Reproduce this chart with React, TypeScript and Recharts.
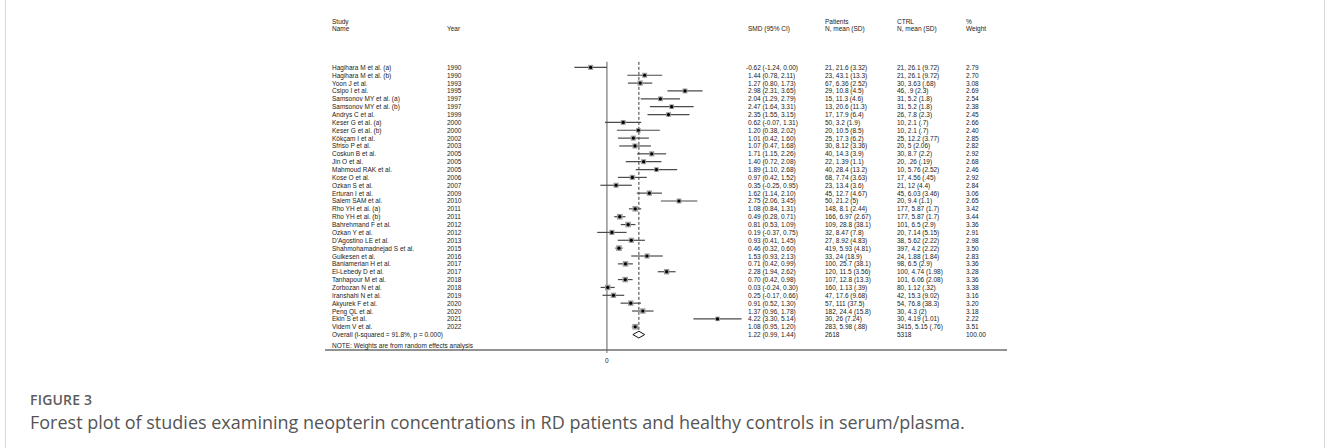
import React from 'react';
import { ComposedChart, Scatter, ErrorBar, XAxis, YAxis, ReferenceLine } from 'recharts';

// ---- study table ----
const studyNames = [
  'Hagihara M et al. (a)', 'Hagihara M et al. (b)', 'Yoon J et al.', 'Csipo I et al.',
  'Samsonov MY et al. (a)', 'Samsonov MY et al. (b)', 'Andrys C et al.', 'Keser G et al. (a)',
  'Keser G et al. (b)', 'Kökçam I et al.', 'Sfriso P et al.', 'Coskun B et al.',
  'Jin O et al.', 'Mahmoud RAK et al.', 'Kose O et al.', 'Ozkan  S et al.',
  'Erturan I et al.', 'Salem SAM et al.', 'Rho YH et al. (a)', 'Rho YH et al. (b)',
  'Bahrehmand F et al.', 'Ozkan Y et al.', "D'Agostino LE et al.", 'Shahmohamadnejad S et al.',
  'Gulkesen et al.', 'Baniamerian H et al.', 'El-Lebedy D et al.', 'Tanhapour M et al.',
  'Zorbozan N et al.', 'Iranshahi N et al.', 'Akyurek F et al.', 'Peng QL et al.',
  'Ekin S et al.', 'Videm V et al.',
];
const studyYears = [
  '1990', '1990', '1993', '1995', '1997', '1997', '1999', '2000', '2000', '2002', '2003', '2005',
  '2005', '2005', '2006', '2007', '2009', '2010', '2011', '2011', '2012', '2012', '2013', '2015',
  '2016', '2017', '2017', '2018', '2018', '2019', '2020', '2020', '2021', '2022',
];
const smd = [
  -0.62, 1.44, 1.27, 2.98, 2.04, 2.47, 2.35, 0.62, 1.20, 1.01, 1.07, 1.71,
  1.40, 1.89, 0.97, 0.35, 1.62, 2.75, 1.08, 0.49, 0.81, 0.19, 0.93, 0.46,
  1.53, 0.71, 2.28, 0.70, 0.03, 0.25, 0.91, 1.37, 4.22, 1.08,
];
const ciLow = [
  -1.24, 0.78, 0.80, 2.31, 1.29, 1.64, 1.55, -0.07, 0.38, 0.42, 0.47, 1.15,
  0.72, 1.10, 0.42, -0.25, 1.14, 2.06, 0.84, 0.28, 0.53, -0.37, 0.41, 0.32,
  0.93, 0.42, 1.94, 0.42, -0.24, -0.17, 0.52, 0.96, 3.30, 0.95,
];
const ciHigh = [
  0.00, 2.11, 1.73, 3.65, 2.79, 3.31, 3.15, 1.31, 2.02, 1.60, 1.68, 2.26,
  2.08, 2.68, 1.52, 0.95, 2.10, 3.45, 1.31, 0.71, 1.09, 0.75, 1.45, 0.60,
  2.13, 0.99, 2.62, 0.98, 0.30, 0.66, 1.30, 1.78, 5.14, 1.20,
];
const patientsText = [
  '21, 21.6 (3.32)', '23, 43.1 (13.3)', '67, 6.36 (2.52)', '29, 10.8 (4.5)', '15, 11.3 (4.6)',
  '13, 20.6 (11.3)', '17, 17.9 (6.4)', '50, 3.2 (1.9)', '20, 10.5 (8.5)', '25, 17.3 (6.2)',
  '30, 8.12 (3.36)', '40, 14.3 (3.9)', '22, 1.39 (1.1)', '40, 28.4 (13.2)', '68, 7.74 (3.63)',
  '23, 13.4 (3.6)', '45, 12.7 (4.67)', '50, 21.2 (5)', '148, 8.1 (2.44)', '166, 6.97 (2.67)',
  '109, 28.8 (38.1)', '32, 8.47 (7.8)', '27, 8.92 (4.83)', '419, 5.93 (4.81)', '33, 24 (18.9)',
  '100, 25.7 (38.1)', '120, 11.5 (3.56)', '107, 12.8 (13.3)', '160, 1.13 (.39)', '47, 17.6 (9.68)',
  '57, 111 (37.5)', '182, 24.4 (15.8)', '30, 26 (7.24)', '283, 5.98 (.88)',
];
const ctrlText = [
  '21, 26.1 (9.72)', '21, 26.1 (9.72)', '30, 3.63 (.68)', '46, .9 (2.3)', '31, 5.2 (1.8)',
  '31, 5.2 (1.8)', '26, 7.8 (2.3)', '10, 2.1 (.7)', '10, 2.1 (.7)', '25, 12.2 (3.77)',
  '20, 5 (2.06)', '30, 8.7 (2.2)', '20, .26 (.19)', '10, 5.76 (2.52)', '17, 4.56 (.45)',
  '21, 12 (4.4)', '45, 6.03 (3.46)', '20, 9.4 (1.1)', '177, 5.87 (1.7)', '177, 5.87 (1.7)',
  '101, 6.5 (2.9)', '20, 7.14 (5.15)', '38, 5.62 (2.22)', '397, 4.2 (2.22)', '24, 1.88 (1.84)',
  '98, 6.5 (2.9)', '100, 4.74 (1.98)', '101, 6.06 (2.08)', '80, 1.12 (.32)', '42, 15.3 (9.02)',
  '54, 76.8 (38.3)', '30, 4.3 (2)', '30, 4.19 (1.01)', '3415, 5.15 (.76)',
];
const weights = [
  2.79, 2.70, 3.08, 2.69, 2.54, 2.38, 2.45, 2.66, 2.40, 2.85, 2.82, 2.92,
  2.68, 2.46, 2.92, 2.84, 3.06, 2.65, 3.42, 3.44, 3.36, 2.91, 2.98, 3.50,
  2.83, 3.36, 3.28, 3.36, 3.38, 3.16, 3.20, 3.18, 2.22, 3.51,
];

// ---- pooled estimate ----
const overallLabel = 'Overall  (I-squared = 91.8%, p = 0.000)';
const overallSmd = 1.22;
const overallLow = 0.99;
const overallHigh = 1.44;
const overallPatients = '2618';
const overallCtrl = '5318';
const overallWeight = 100.0;
const noteText = 'NOTE: Weights are from random effects analysis';

const headerTop = ['Study', '', '', 'Patients', 'CTRL', '%'];
const headerBottom = ['Name', 'Year', 'SMD (95% CI)', 'N, mean (SD)', 'N, mean (SD)', 'Weight'];

// ---- layout ----
const W = 1330;
const H = 448;
const COLS = [332, 447, 748, 825, 897, 966];
const X_DOMAIN: [number, number] = [-10.76, 15.27];
const Y_DOMAIN: [number, number] = [-7, 36.96];
const HEADER_ROWS = [-4.9, -3.9];
const OVERALL_ROW = studyNames.length + 1;
const NOTE_ROW = 36.35;
const FONT = "'Liberation Sans', Arial, sans-serif";
const FS = 6.5;

const fmt = (v: number) => v.toFixed(2);
const ciLabel = (e: number, l: number, h: number) => `${fmt(e)} (${fmt(l)}, ${fmt(h)})`;

const studyRows = studyNames.map((name, i) => ({
  row: i + 1,
  x: smd[i],
  err: [smd[i] - ciLow[i], ciHigh[i] - smd[i]],
  w: weights[i],
}));

const DIAMOND_HALF = 0.43;
const diamond = [
  { x: overallLow, row: OVERALL_ROW },
  { x: overallSmd, row: OVERALL_ROW - DIAMOND_HALF },
  { x: overallHigh, row: OVERALL_ROW },
  { x: overallSmd, row: OVERALL_ROW + DIAMOND_HALF },
  { x: overallLow, row: OVERALL_ROW },
];

const yTicks = [
  ...HEADER_ROWS,
  ...studyNames.map((_, i) => i + 1),
  OVERALL_ROW,
  NOTE_ROW,
];

const txt = (x: number, y: number, s: string, key: string) => (
  <text key={key} x={x} y={y} fontSize={FS} fontFamily={FONT} fill="#222" dominantBaseline="central">
    {s}
  </text>
);

const RowTick = (props: any) => {
  const { y, payload } = props;
  const v = payload.value as number;
  if (v === HEADER_ROWS[0]) {
    return <g>{headerTop.map((s, c) => (s ? txt(COLS[c], y, s, `h${c}`) : null))}</g>;
  }
  if (v === HEADER_ROWS[1]) {
    return <g>{headerBottom.map((s, c) => txt(COLS[c], y, s, `h${c}`))}</g>;
  }
  if (v === NOTE_ROW) {
    return <g>{txt(COLS[0], y, noteText, 'n')}</g>;
  }
  if (v === OVERALL_ROW) {
    return (
      <g>
        {txt(COLS[0], y, overallLabel, 'a')}
        {txt(COLS[2], y, ciLabel(overallSmd, overallLow, overallHigh), 'c')}
        {txt(COLS[3], y, overallPatients, 'd')}
        {txt(COLS[4], y, overallCtrl, 'e')}
        {txt(COLS[5], y, fmt(overallWeight), 'f')}
      </g>
    );
  }
  const i = v - 1;
  if (i < 0 || i >= studyNames.length) return <g />;
  const neg = smd[i] < 0;
  return (
    <g>
      {txt(COLS[0], y, studyNames[i], 'a')}
      {txt(COLS[1], y, studyYears[i], 'b')}
      {txt(neg ? COLS[2] - 2 : COLS[2], y, ciLabel(smd[i], ciLow[i], ciHigh[i]), 'c')}
      {txt(COLS[3], y, patientsText[i], 'd')}
      {txt(COLS[4], y, ctrlText[i], 'e')}
      {txt(COLS[5], y, fmt(weights[i]), 'f')}
    </g>
  );
};

const StudyMarker = (props: any) => {
  const { cx, cy, payload } = props;
  const side = 3.0 * Math.sqrt(payload.w);
  return (
    <g>
      <rect x={cx - side / 2} y={cy - side / 2} width={side} height={side} fill="#9a9a9a" />
      <circle cx={cx} cy={cy} r={1.6} fill="#000" />
    </g>
  );
};

const NoMarker = () => <g />;

export default function App() {
  return (
    <div style={{ position: 'absolute', left: 0, top: 0, width: W, height: H, background: '#fff', overflow: 'hidden' }}>
      <div
        style={{
          position: 'absolute', left: 5, top: -2, width: W - 10, height: H + 10,
          border: '1px solid #d9d9d9', boxSizing: 'border-box',
        }}
      />
      <ComposedChart
        width={W}
        height={H}
        margin={{ top: 4.5, right: W - 1007, bottom: 78, left: 324 }}
        style={{ position: 'absolute', left: 0, top: 0 }}
      >
        <XAxis
          type="number"
          dataKey="x"
          domain={X_DOMAIN}
          ticks={[0]}
          allowDataOverflow
          height={20}
          axisLine={{ stroke: '#6e6e6e', strokeWidth: 1.4 }}
          tickLine={{ stroke: '#6e6e6e' }}
          tickSize={3}
          tickMargin={5}
          tick={{ fontSize: FS, fontFamily: FONT, fill: '#222' }}
        />
        <YAxis
          type="number"
          dataKey="row"
          domain={Y_DOMAIN}
          reversed
          ticks={yTicks}
          interval={0}
          width={1}
          axisLine={false}
          tickLine={false}
          allowDataOverflow
          tick={<RowTick />}
        />
        <ReferenceLine
          segment={[{ x: 0, y: 0.3 }, { x: 0, y: Y_DOMAIN[1] }]}
          stroke="#8a8a8a"
          strokeWidth={1.4}
          ifOverflow="visible"
        />
        <ReferenceLine
          segment={[{ x: overallSmd, y: 0.3 }, { x: overallSmd, y: OVERALL_ROW - DIAMOND_HALF }]}
          stroke="#222"
          strokeWidth={0.9}
          strokeDasharray="3 2"
          ifOverflow="visible"
        />
        <Scatter data={studyRows} shape={<StudyMarker />} isAnimationActive={false}>
          <ErrorBar dataKey="err" direction="x" width={0} stroke="#4a4a4a" strokeWidth={1.2} isAnimationActive={false} />
        </Scatter>
        <Scatter
          data={diamond}
          line={{ stroke: '#111', strokeWidth: 1 }}
          lineJointType="linear"
          shape={<NoMarker />}
          isAnimationActive={false}
        />
      </ComposedChart>
      <div
        style={{
          position: 'absolute', left: 30, top: 390, fontFamily: "'Open Sans', sans-serif",
          fontSize: 14, fontWeight: 600, color: '#5c5c5c', letterSpacing: 0.2,
        }}
      >
        FIGURE 3
      </div>
      <div
        style={{
          position: 'absolute', left: 30, top: 410, fontFamily: "'Open Sans', sans-serif",
          fontSize: 18, color: '#555', whiteSpace: 'nowrap',
        }}
      >
        Forest plot of studies examining neopterin concentrations in RD patients and healthy controls in serum/plasma.
      </div>
    </div>
  );
}
